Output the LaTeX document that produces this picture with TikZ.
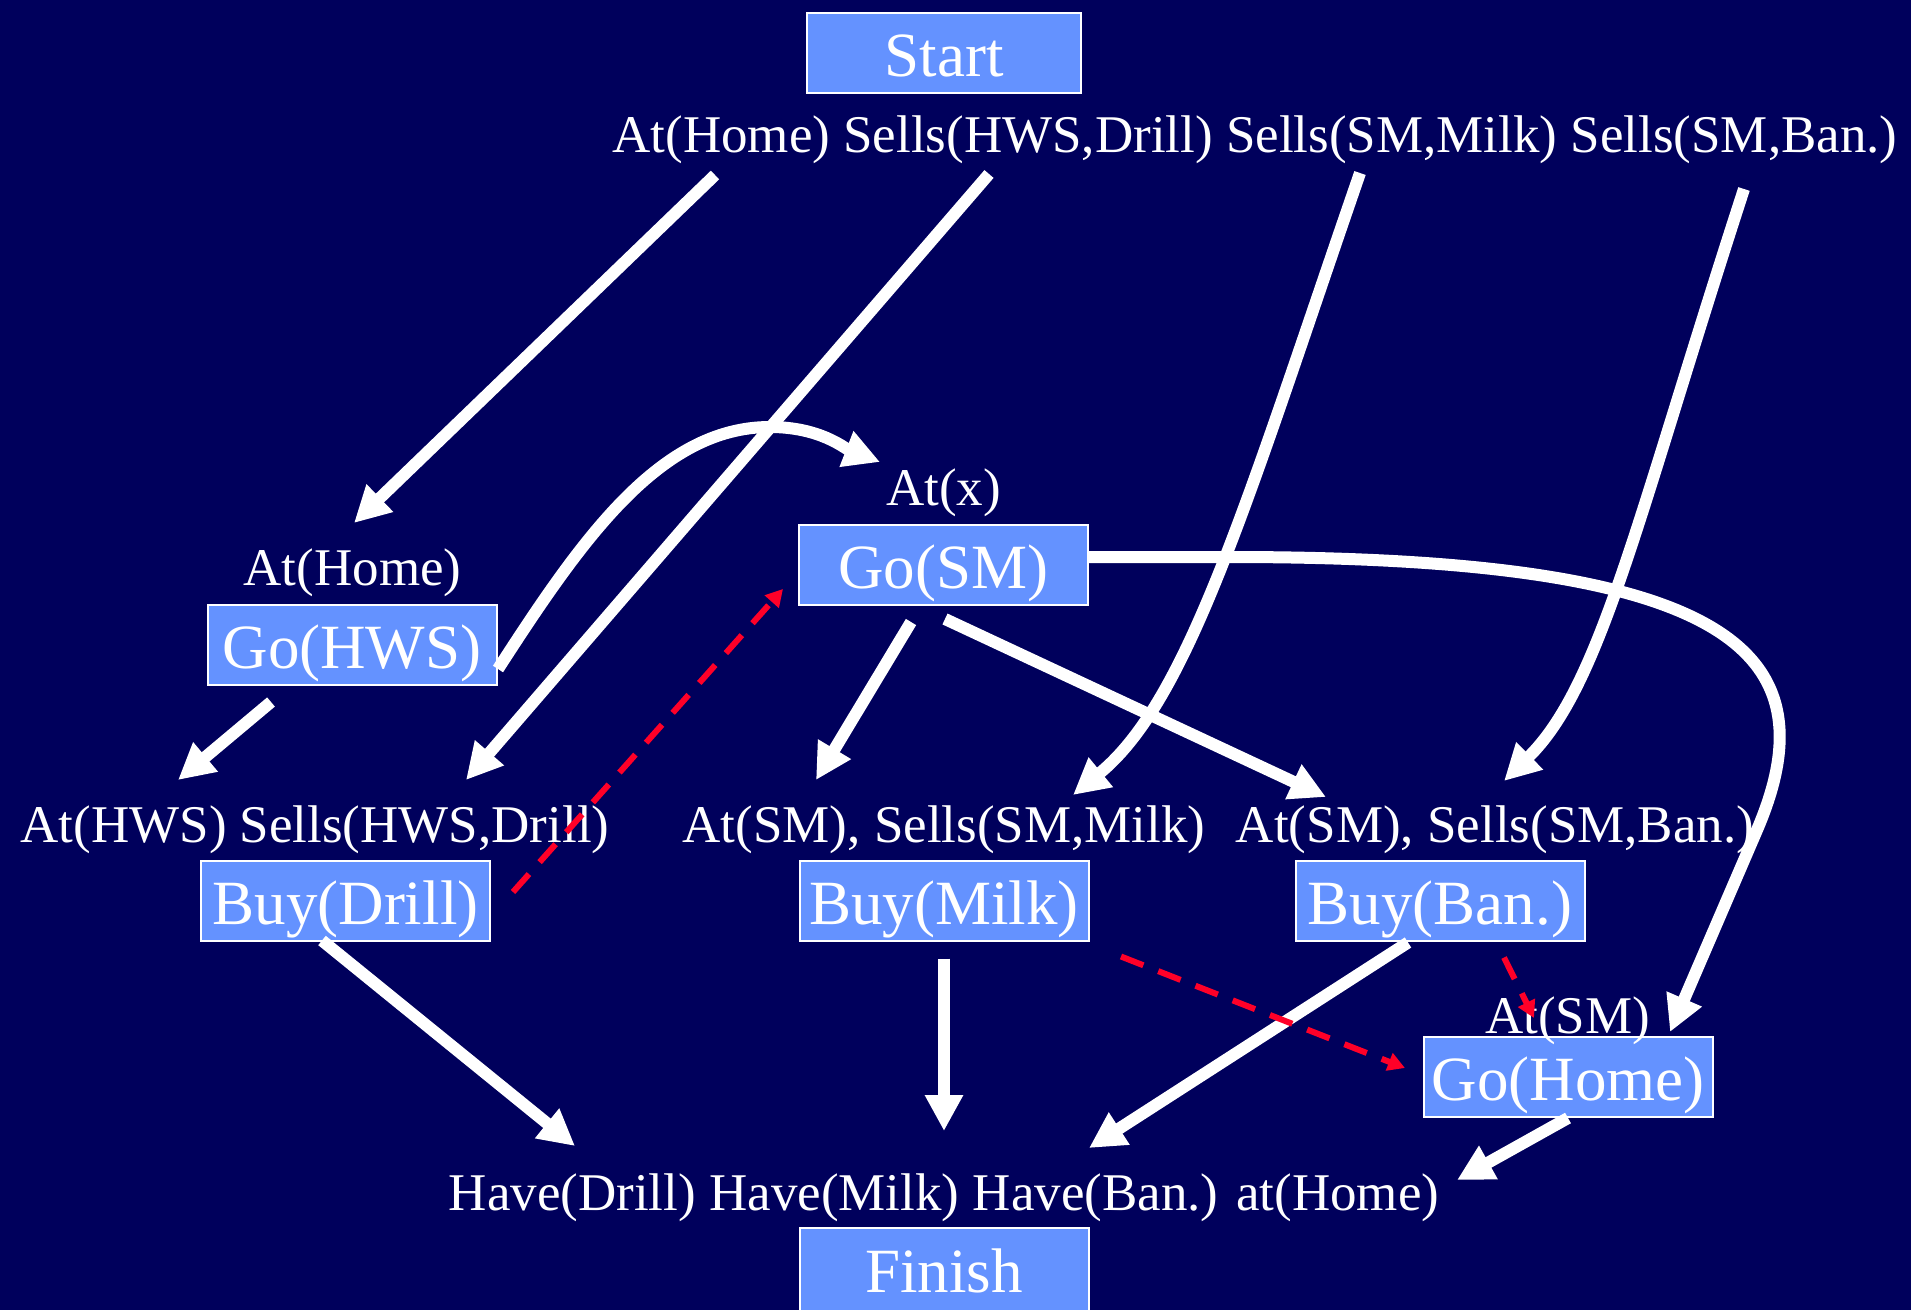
\documentclass[tikz,border=0pt]{standalone}
\usepackage{fontspec}
\setmainfont{Liberation Serif}
\usetikzlibrary{arrows.meta,calc}
\definecolor{navy}{RGB}{0,0,92}
\definecolor{boxblue}{RGB}{100,146,255}
\definecolor{ordred}{RGB}{255,0,40}
\begin{document}
\begin{tikzpicture}[x=1pt,y=-1pt,
  act/.style={draw=white, line width=2pt, fill=boxblue, text=white,
    minimum width=289pt, minimum height=80pt, inner sep=0pt,
    text height=47pt, text depth=0pt, font=\fontsize{63}{70}\selectfont},
  cond/.style={text=white, inner sep=0pt, anchor=base,
    font=\fontsize{53}{60}\selectfont},
  link/.style={draw=white, line width=12pt, -{Triangle[length=36pt,width=36pt]}},
  order/.style={draw=ordred, line width=6pt, dash pattern=on 24pt off 16pt,
    -{Triangle[length=17pt,width=18pt]}}]
\useasboundingbox (0,0) rectangle (1911,1309);
% background, bleeding past the page edges
\fill[navy] (-6,-6) rectangle (1917,1315);

% actions
\node[act, minimum width=274pt] (start) at (944,52.5) {Start};
\node[act] (goHWS)    at (352,644.5)  {Go(HWS)};
\node[act] (goSM)     at (943.5,565)  {Go(SM)};
\node[act] (buyDrill) at (345.5,900.5) {Buy(Drill)};
\node[act] (buyMilk)  at (944,900.5)  {Buy(Milk)};
\node[act] (buyBan)   at (1440,900.5) {Buy(Ban.)};
\node[act] (goHome)   at (1568,1077)  {Go(Home)};
% the last box runs past the lower edge of the page
\node[act, minimum height=110pt, text depth=29pt] (finish) at (944,1283) {Finish};

% conditions
\node[cond] (pre)     at (1255,152)   {At(Home) Sells(HWS,Drill) Sells(SM,Milk) Sells(SM,Ban.)};
\node[cond] (lAtHome) at (352.5,585)  {At(Home)};
\node[cond] (lAtX)    at (943.5,505)  {At(x)};
\node[cond] (lDrill)  at (315,842)    {At(HWS) Sells(HWS,Drill)};
\node[cond] (lMilk)   at (944,842)    {At(SM), Sells(SM,Milk)};
\node[cond] (lBan)    at (1495,842)   {At(SM), Sells(SM,Ban.)};
\node[cond] (lAtSM)   at (1567.5,1033) {At(SM)};
\node[cond] (goal)    at (944,1210)   {Have(Drill) Have(Milk) Have(Ban.) at(Home)};

% causal links
\draw[link] ($(pre.base)+(-540,23)$) -- ($(lAtHome.base)+(1.5,-62)$);
\draw[link] ($(pre.base)+(-266,22)$) -- ($(lDrill.base)+(151,-62)$);
\draw[link] ($(pre.base)+(105,21)$) .. controls (1247,500) and (1189,700) .. ($(lMilk.base)+(129,-47)$);
\draw[link] ($(pre.base)+(489,37)$) .. controls (1637,518) and (1601,686) .. ($(lBan.base)+(9,-61)$);
\draw[link] ($(goHWS.south east)+(0.5,-16.5)$) .. controls (582,539) and (660,427) .. (770,427)
  .. controls (820,427) and (844,448) .. ($(lAtX.base)+(-63.5,-43)$);
\draw[link] ($(goHWS.south)+(-81,16.5)$) -- ($(lDrill.base)+(-137,-62)$);
\draw[link] ($(goSM.south)+(-32.5,16)$) -- ($(lMilk.base)+(-128,-62)$);
\draw[link] ($(goSM.south)+(1.5,13)$) -- ($(lBan.base)+(-169,-45)$);
\draw[link] ($(goSM.east)+(0,-8)$) -- (1230,557) .. controls (1720,557) and (1836,646) .. (1757,830)
  -- ($(goHome.north)+(102,-4)$);
\draw[link] ($(buyDrill.south)+(-23.5,-1)$) -- ($(goal.base)+(-369,-64)$);
\draw[link] ($(buyMilk.south)+(0,17)$) -- ($(goal.base)+(0,-79)$);
\draw[link] ($(buyBan.south)+(-32,1)$) -- ($(goal.base)+(145,-62)$);
\draw[link] (goHome.south) -- ($(goal.base)+(513,-30)$);

% ordering constraints
\draw[order] ($(buyDrill.east)+(22,-8.5)$) -- ($(goSM.west)+(-15,24)$);
\draw[order] ($(buyMilk.south east)+(31.5,15)$) -- ($(goHome.west)+(-17.5,-9)$);
\draw[order] ($(buyBan.south)+(64,16)$) -- ($(lAtSM.base)+(-33.5,-15)$);
\end{tikzpicture}
\end{document}
